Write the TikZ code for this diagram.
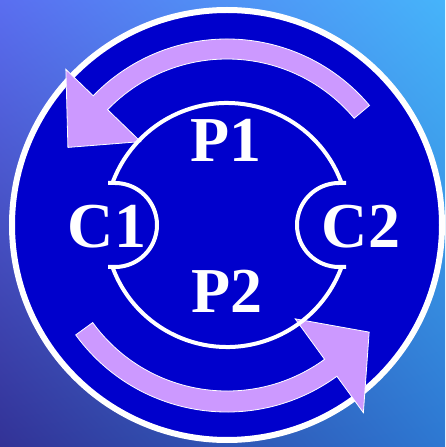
\documentclass[tikz,border=0pt]{standalone}
\usepackage{fontspec}
\setmainfont{Liberation Serif}
\usetikzlibrary{shadings}
\definecolor{bgUL}{RGB}{90,110,240}
\definecolor{bgUR}{RGB}{70,180,250}
\definecolor{bgLL}{RGB}{50,50,150}
\definecolor{bgLR}{RGB}{45,120,210}
\definecolor{disc}{RGB}{0,0,204}
\definecolor{lav}{RGB}{204,153,255}
\tikzset{
  ring/.style={draw=white,line width=4pt},
  arrowband/.style={fill=lav,draw=white,line width=0.8pt,line join=miter},
  lbl/.style={text=white,font=\fontsize{64}{64}\selectfont\bfseries,inner sep=0pt,anchor=base}
}
\begin{document}
\begin{tikzpicture}[x=1pt,y=1pt]
\useasboundingbox (0,0) rectangle (445,447);
\shade[upper left=bgUL,upper right=bgUR,lower left=bgLL,lower right=bgLR] (0,0) rectangle (445,447);
\begin{scope}[shift={(227,222)}]
  \coordinate (O) at (0,0);
  \fill[disc] (O) circle[radius=215];
  \draw[white,line width=6pt] (O) circle[radius=215];
  % top arrow
  \draw[arrowband] (40:186) arc[start angle=40,end angle=136,radius=186]
     -- (136:224) -- (154:177) -- (136:120) -- (136:166)
     arc[start angle=136,end angle=40,radius=166] -- cycle;
  % bottom arrow
  \draw[arrowband] (216:166) arc[start angle=216,end angle=306,radius=166]
     -- (306:116) -- (323:178) -- (306:232) -- (306:187)
     arc[start angle=306,end angle=216,radius=187] -- cycle;
  % inner ring
  \draw[ring] (20:122) arc[start angle=20,end angle=160,radius=122];
  \draw[ring] (200:122) arc[start angle=200,end angle=340,radius=122];
  % notches
  \draw[ring] (-119,42) -- (-112,42) arc[start angle=90,end angle=-90,radius=42] -- (-119,-42);
  \draw[ring] (119,42) -- (112,42) arc[start angle=90,end angle=270,radius=42] -- (119,-42);
  % labels
  \node[lbl] (p1) at (-1,63) {P1};
  \node[lbl] (p2) at (0,-88) {P2};
  \node[lbl] (c1) at (-120,-23) {C1};
  \node[lbl] (c2) at (134,-23) {C2};
\end{scope}
\end{tikzpicture}
\end{document}
